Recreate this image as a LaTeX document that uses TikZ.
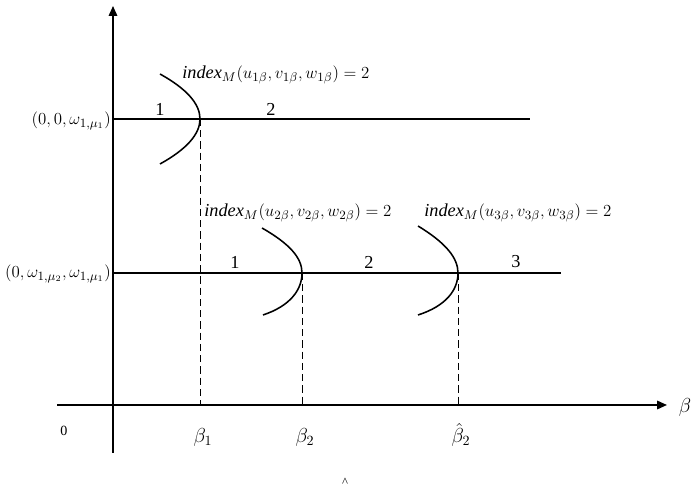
\documentclass[tikz,border=0pt]{standalone}
\usepackage{fontspec}
\setmainfont{Liberation Serif}
\usetikzlibrary{arrows.meta}
\begin{document}
\begin{tikzpicture}[x=0.025cm,y=-0.025cm,
  axis/.style={line width=1.2pt,-{Triangle[length=7pt,width=6pt]}},
  hline/.style={line width=1.1pt},
  arc/.style={line width=1.1pt},
  guide/.style={line width=0.5pt,dash pattern=on 5pt off 3pt},
  lbl/.style={inner sep=0pt,font=\fontsize{13}{15}\selectfont},
  idx/.style={inner sep=0pt,anchor=west,font=\fontsize{13}{15}\selectfont}]
\useasboundingbox (0,0) rectangle (691,490);
% axes
\coordinate (vbot) at (113,453);
\coordinate (vtop) at (113,6);
\coordinate (hleft) at (57,405);
\coordinate (hright) at (667,405);
\draw[axis] (vbot) -- (vtop);
\draw[axis] (hleft) -- (hright);
% horizontal branches
\coordinate (l1s) at (113,119);
\coordinate (l1e) at (530,119);
\coordinate (l2s) at (113,273);
\coordinate (l2e) at (561,273);
\draw[hline] (l1s) -- (l1e);
\draw[hline] (l2s) -- (l2e);
% bifurcation points
\coordinate (p1) at (200,119);
\coordinate (p2) at (302,273);
\coordinate (p3) at (458,273);
\coordinate (b1) at (200,405);
\coordinate (b2) at (302,405);
\coordinate (b3) at (458,405);
\draw[guide] (p1) -- (b1);
\draw[guide] (p2) -- (b2);
\draw[guide] (p3) -- (b3);
% curves
\coordinate (c1t) at (160,74);
\coordinate (c1b) at (160,164);
\draw[arc] (c1t) .. controls (187,89) and (200,104) .. (p1) .. controls (200,134) and (187,149) .. (c1b);
\coordinate (c2t) at (262,228);
\coordinate (c2b) at (263,315);
\draw[arc] (c2t) .. controls (290,244) and (302,258) .. (p2) .. controls (302,290) and (290,306) .. (c2b);
\coordinate (c3t) at (418,226);
\coordinate (c3b) at (418,315);
\draw[arc] (c3t) .. controls (446,243) and (458,258) .. (p3) .. controls (458,290) and (446,306) .. (c3b);
% labels
\node[idx] (i1) at (182,75) {\textit{index}$_M(u_{1\beta},v_{1\beta},w_{1\beta})=2$};
\node[idx] (i2) at (204,213) {\textit{index}$_M(u_{2\beta},v_{2\beta},w_{2\beta})=2$};
\node[idx] (i3) at (424,213) {\textit{index}$_M(u_{3\beta},v_{3\beta},w_{3\beta})=2$};
\node[lbl] (n11) at (160,109) {1};
\node[lbl] (n12) at (271,109) {2};
\node[lbl] (n21) at (235,262) {1};
\node[lbl] (n22) at (369,262) {2};
\node[lbl] (n23) at (516,262) {3};
\node[lbl,anchor=east] (y1) at (111,121) {$(0,0,\omega_{1,\mu_1})$};
\node[lbl,anchor=east] (y2) at (111,274) {$(0,\omega_{1,\mu_2},\omega_{1,\mu_1})$};
\node[lbl,font=\fontsize{10}{12}\selectfont] (zero) at (64,431) {0};
\node[lbl,font=\fontsize{14}{16}\selectfont] (tb1) at (203,437) {$\beta_1$};
\node[lbl,font=\fontsize{14}{16}\selectfont] (tb2) at (305,437) {$\beta_2$};
\node[lbl,font=\fontsize{14}{16}\selectfont] (tb3) at (461,435) {$\hat\beta_2$};
\node[lbl,font=\fontsize{14}{16}\selectfont] (tb) at (685,407) {$\beta$};
\node[lbl,font=\fontsize{9}{10}\selectfont] (hat) at (345,482) {\^{}};
\end{tikzpicture}
\end{document}
